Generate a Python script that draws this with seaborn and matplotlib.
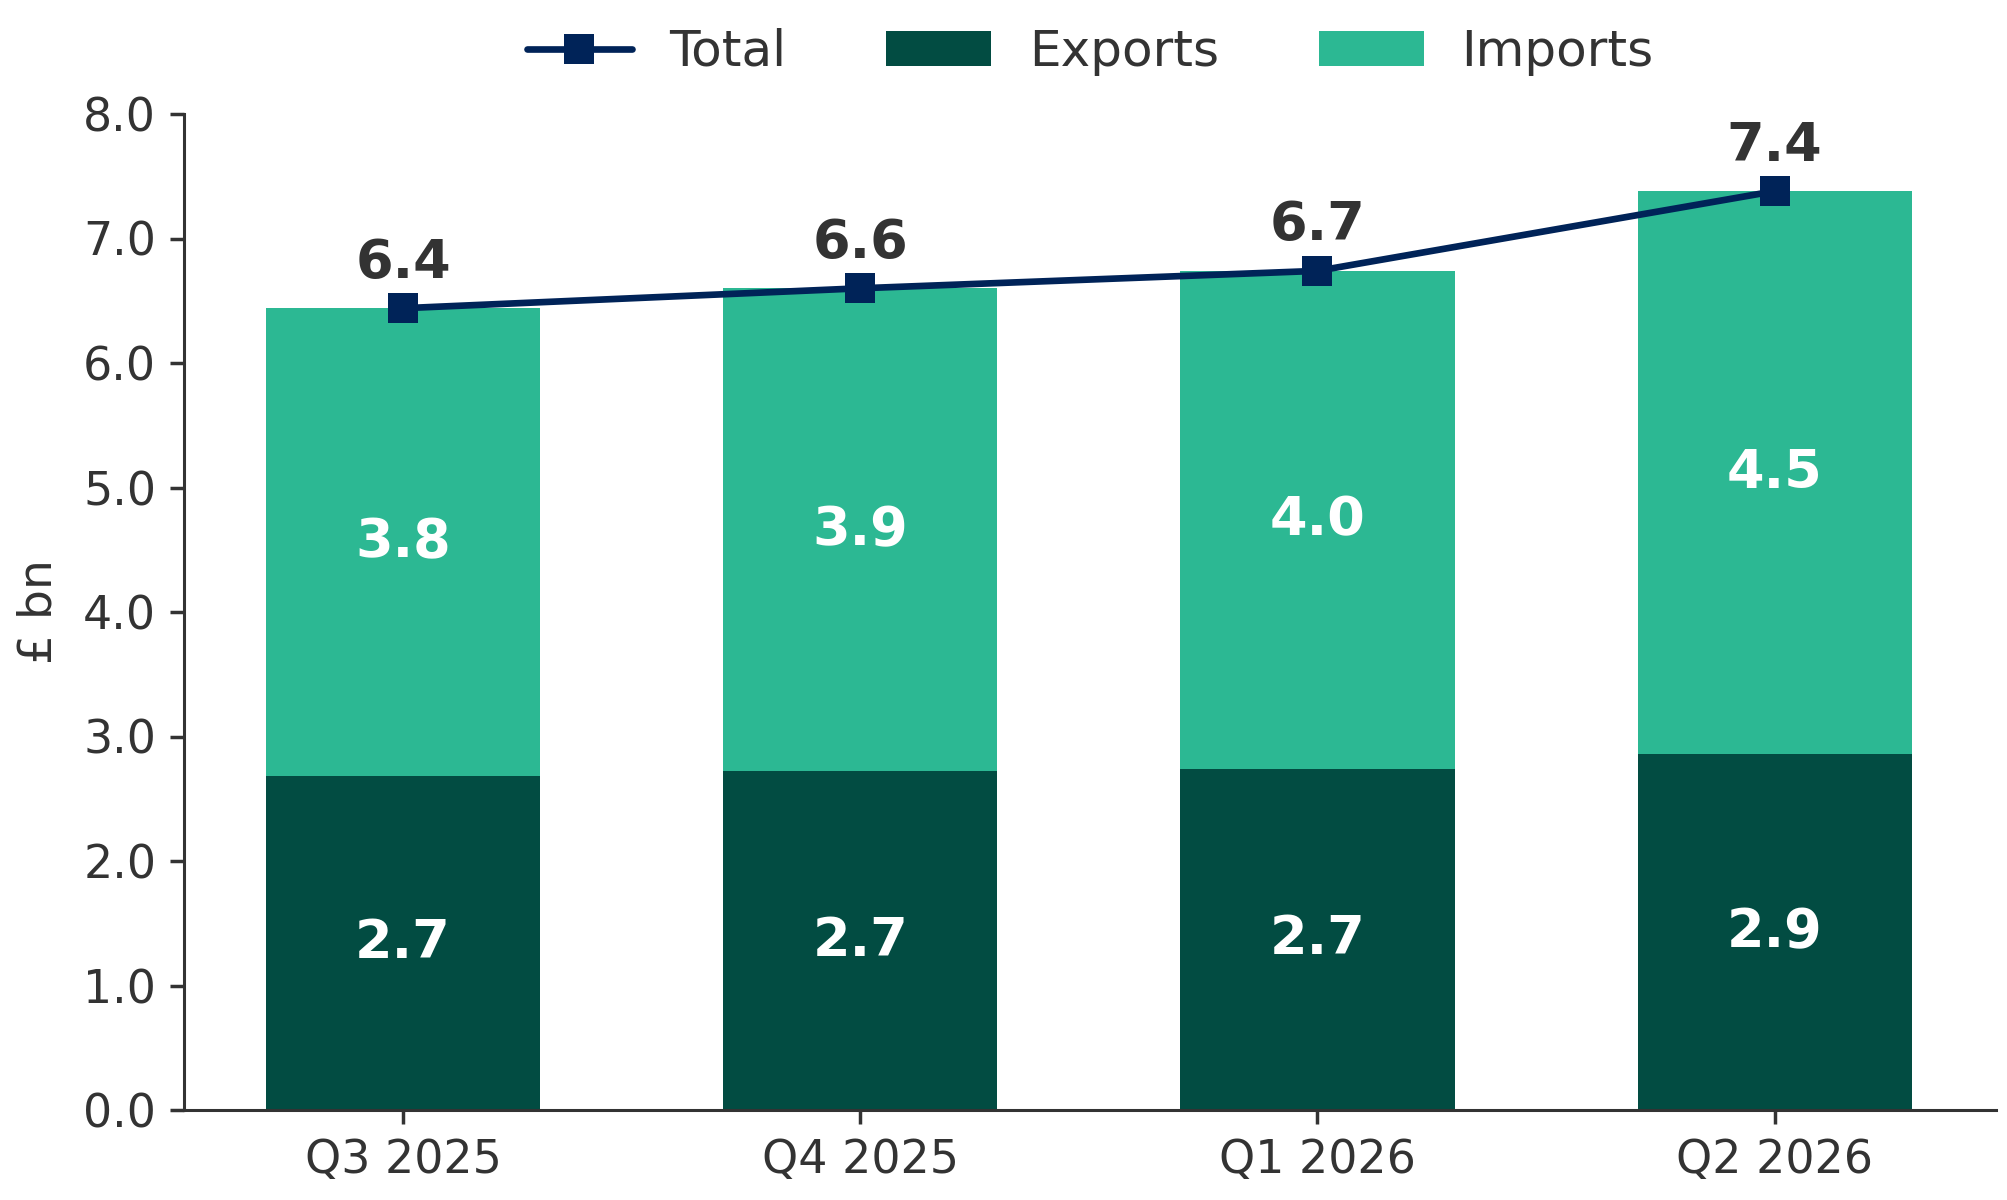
import matplotlib
matplotlib.use("Agg")
import matplotlib.pyplot as plt
from matplotlib.lines import Line2D
from matplotlib.patches import Patch
import seaborn as sns
import pandas as pd

quarters = ["Q3 2025", "Q4 2025", "Q1 2026", "Q2 2026"]
exports = [2.68, 2.72, 2.74, 2.86]
imports = [3.76, 3.88, 4.00, 4.52]
totals = [6.44, 6.60, 6.74, 7.38]
yticks = [0, 1, 2, 3, 4, 5, 6, 7, 8]

C_EXP = "#024C42"
C_IMP = "#2CB893"
C_TOT = "#002358"
C_TXT = "#333333"

sns.set_theme(style="ticks")
plt.rcParams["font.family"] = ["DejaVu Sans"]

df = pd.DataFrame({"quarter": quarters, "exports": exports,
                   "imports": imports, "total": totals})

fig = plt.figure(figsize=(20.07, 12), dpi=100)
ax = fig.add_axes([184 / 2007, 90 / 1200, (1996 - 184) / 2007, 996 / 1200])

sns.barplot(data=df, x="quarter", y="total", color=C_IMP, width=0.6,
            saturation=1, ax=ax, linewidth=0)
sns.barplot(data=df, x="quarter", y="exports", color=C_EXP, width=0.6,
            saturation=1, ax=ax, linewidth=0)
xpos = list(range(len(quarters)))
ax.plot(xpos, totals, color=C_TOT, linewidth=4.8, marker="s",
        markersize=21, markeredgewidth=0, zorder=5)

for i in xpos:
    ax.text(i, exports[i] / 2, f"{exports[i]:.1f}", ha="center", va="center",
            color="white", fontsize=39, fontweight="bold")
    ax.text(i, exports[i] + imports[i] / 2, f"{imports[i]:.1f}", ha="center",
            va="center", color="white", fontsize=39, fontweight="bold")
    ax.annotate(f"{totals[i]:.1f}", (i, totals[i]), xytext=(0, 22),
                textcoords="offset points", ha="center", va="baseline",
                color=C_TXT, fontsize=39, fontweight="bold")

ax.set_xlim(-0.479, 3.484)
ax.set_ylim(0, 8)
ax.set_yticks(yticks)
ax.set_yticklabels([f"{v:.1f}" for v in yticks])
ax.set_xlabel("")
ax.set_ylabel("£ bn", fontsize=34, color=C_TXT, labelpad=16)
ax.tick_params(axis="both", labelsize=33, colors=C_TXT, length=10,
               width=2.5, pad=10)
for s in ["top", "right"]:
    ax.spines[s].set_visible(False)
for s in ["left", "bottom"]:
    ax.spines[s].set_color(C_TXT)
    ax.spines[s].set_linewidth(2.2)

handles = [Line2D([0], [0], color=C_TOT, linewidth=4.8, marker="s",
                  markersize=21, markeredgewidth=0),
           Patch(facecolor=C_EXP, edgecolor="none"),
           Patch(facecolor=C_IMP, edgecolor="none")]
fig.legend(handles, ["Total", "Exports", "Imports"], ncol=3, frameon=False,
           loc="center", bbox_to_anchor=(1090 / 2007, 1 - 52 / 1200),
           fontsize=36, handlelength=2.1, handleheight=0.7,
           handletextpad=0.75, columnspacing=2.0, labelcolor=C_TXT)

fig.savefig("out.png", dpi=100)
